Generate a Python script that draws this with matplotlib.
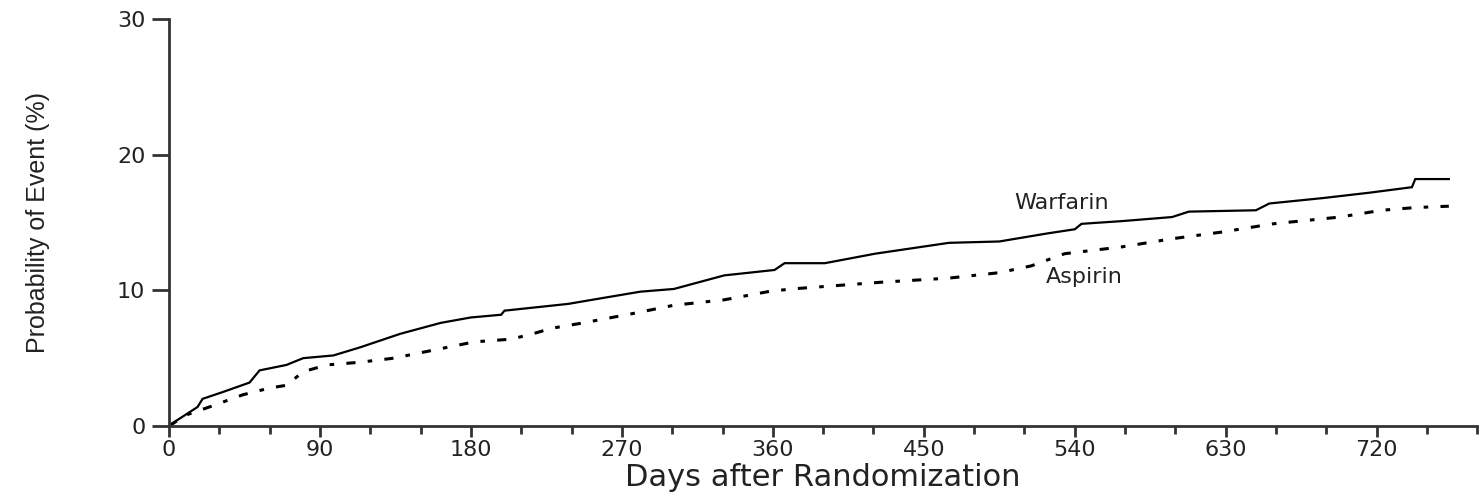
import matplotlib
matplotlib.use('Agg')
import matplotlib.pyplot as plt
from matplotlib.ticker import MultipleLocator

# Kaplan-Meier style curves
warfarin_days = [0, 2, 17, 20, 32, 48, 54, 70, 80, 98, 114, 138, 162, 180, 198, 200,
                 238, 257, 281, 301, 331, 361, 367, 391, 421, 465, 495, 524, 540, 544,
                 568, 598, 608, 648, 656, 688, 716, 741, 743, 763]
warfarin_prob = [0, 0.2, 1.4, 2.0, 2.5, 3.2, 4.1, 4.5, 5.0, 5.2, 5.8, 6.8, 7.6, 8.0, 8.2, 8.5,
                 9.0, 9.4, 9.9, 10.1, 11.1, 11.5, 12.0, 12.0, 12.7, 13.5, 13.6, 14.2, 14.5, 14.9,
                 15.1, 15.4, 15.8, 15.9, 16.4, 16.8, 17.2, 17.6, 18.2, 18.2]

aspirin_days = [0, 10, 24, 44, 60, 70, 80, 94, 114, 134, 162, 182, 204, 217, 228, 247,
                277, 301, 331, 357, 371, 425, 465, 495, 514, 534, 568, 598, 628, 658,
                698, 723, 743, 763]
aspirin_prob = [0, 0.8, 1.4, 2.3, 2.8, 3.0, 4.0, 4.5, 4.7, 5.0, 5.7, 6.2, 6.4, 6.8, 7.2, 7.6,
                8.3, 8.9, 9.3, 9.9, 10.1, 10.6, 10.9, 11.3, 11.8, 12.7, 13.2, 13.8, 14.3, 14.9,
                15.4, 15.9, 16.1, 16.2]

x_ticks = [0, 90, 180, 270, 360, 450, 540, 630, 720]
y_ticks = [0, 10, 20, 30]

labels = ['Warfarin', 'Aspirin']
label_pos = [(504, 16.4), (523, 11.0)]


def main():
	fig = plt.figure(figsize=(14.8, 4.99), dpi=100)
	ax = fig.add_axes([0.1142, 0.1463, 0.884, 0.8157])
	text_col = '#222222'

	ax.plot(warfarin_days, warfarin_prob, color='black', lw=1.6, solid_joinstyle='miter')
	ax.plot(aspirin_days, aspirin_prob, color='black', lw=2.2,
			linestyle=(0, (3, 4, 1.5, 4)))

	for name, (x, y) in zip(labels, label_pos):
		ax.text(x, y, name, fontsize=16, color=text_col, ha='left', va='center',
				family='DejaVu Sans')

	ax.set_xlim(0, 780)
	ax.set_ylim(0, 30)
	ax.set_xticks(x_ticks)
	ax.xaxis.set_minor_locator(MultipleLocator(30))
	ax.set_yticks(y_ticks)

	for side in ['top', 'right']:
		ax.spines[side].set_visible(False)
	for side in ['left', 'bottom']:
		ax.spines[side].set_linewidth(2.0)
		ax.spines[side].set_color('#333333')

	ax.tick_params(axis='y', which='major', length=12, width=2, color='#333333',
				   labelsize=16, labelcolor=text_col, pad=5)
	ax.tick_params(axis='x', which='major', length=8, width=2, color='#333333',
				   labelsize=16, labelcolor=text_col, pad=2)
	ax.tick_params(axis='x', which='minor', length=6, width=2, color='#333333')

	ax.set_xlabel('Days after Randomization', fontsize=22, color=text_col, labelpad=2)
	ax.set_ylabel('Probability of Event (%)', fontsize=18, color=text_col,
				  family='Liberation Sans', labelpad=48)

	fig.savefig('out.png', dpi=100)


if __name__ == '__main__':
	main()
